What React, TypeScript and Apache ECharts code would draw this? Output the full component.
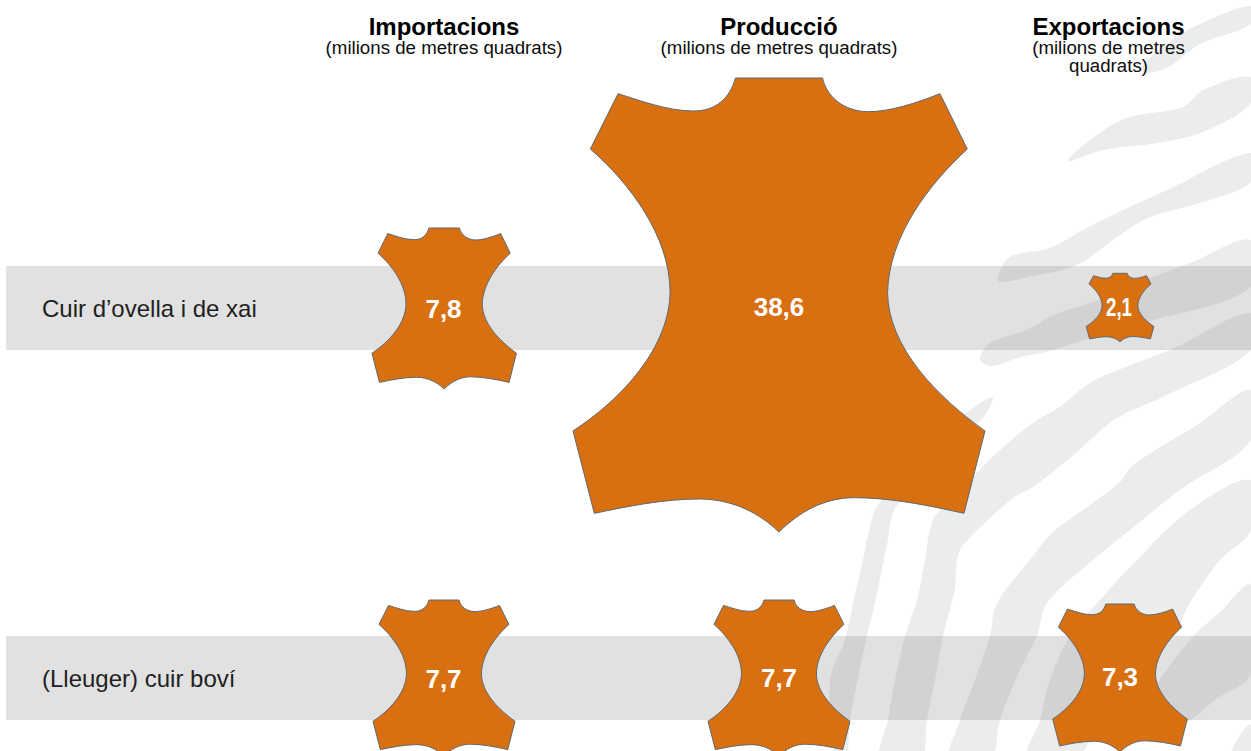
import React, { useEffect, useRef } from "react";
import * as echarts from "echarts";

// Leather trade figures, millions of square metres (one entry per row).
const rowNames = ["Cuir d’ovella i de xai", "(Lleuger) cuir boví"];
const columnNames = ["Importacions", "Producció", "Exportacions"];
const importValues = [7.8, 7.7];
const productionValues = [38.6, 7.7];
const exportValues = [2.1, 7.3];
const unitLines = [
  ["(milions de metres quadrats)"],
  ["(milions de metres quadrats)"],
  ["(milions de metres", "quadrats)"],
];

// Value to hide size: breakpoints of the pictogram scale, in pixels.
const sizeDomain = [2.1, 7.3, 7.7, 7.8, 38.6];
const widthRange = [67.7, 134.6, 142, 144.5, 412];
const heightRange = [68.4, 148, 156, 161, 454];

const FONT = '"Liberation Sans", Arial, sans-serif';
const ORANGE = "#d87011";

// Outline of a stretched hide.
const HIDE_PATH =
  "M527 55L788 55C800 110 850 155 925 156C990 156 1070 130 1140 102L1222 268" +
  "C1110 370 985 530 983 700C985 860 1130 1010 1275 1113L1212 1360" +
  "C1100 1335 990 1313 880 1313C790 1315 720 1355 657 1416C600 1360 520 1318 420 1317" +
  "C310 1317 200 1340 104 1360L40 1113C190 1015 330 860 331 695C330 530 210 370 92 268" +
  "L175 102C240 122 320 153 400 154C470 154 510 115 527 55Z";

// Small optical offsets for the pictograms: [column][row] -> [dx, dy].
const hideOffsets = [
  [[-0.3, 0.5], [-0.5, 0]],
  [[-3.5, -3], [-3.5, 0]],
  [[-0.5, -0.5], [-0.5, 0]],
];
const labelOffsets = [
  [[-1, 1], [-1, 0.5]],
  [[-3.5, -1], [-3.5, -0.5]],
  [[-1.5, -1], [-0.5, -1.5]],
];

// Pale zebra-hide stripes behind the chart.
const stripes: number[][][] = [
  [[1251, 6], [1200, 24], [1175, 38], [1142, 66], [1146, 73], [1170, 66], [1200, 44], [1251, 24]],
  [[1068, 161], [1090, 140], [1127, 118], [1183, 107], [1203, 90], [1251, 77], [1251, 103], [1203, 132], [1157, 143], [1103, 150]],
  [[998, 276], [1010, 257], [1050, 248], [1083, 230], [1117, 213], [1167, 190], [1251, 153], [1251, 182], [1200, 203], [1150, 217], [1117, 237], [1077, 265], [1033, 276], [1000, 282]],
  [[980, 360], [990, 343], [1027, 330], [1053, 315], [1090, 303], [1150, 278], [1190, 263], [1251, 240], [1251, 287], [1147, 322], [1090, 338], [1053, 350], [1017, 358], [993, 366]],
  [[1251, 313], [1170, 350], [1123, 368], [1090, 383], [1058, 408], [1037, 420], [1000, 450], [960, 490], [945, 505], [932, 522], [925, 560], [917, 600], [905, 636], [895, 680], [888, 720], [880, 760], [920, 760], [927, 720], [935, 680], [943, 636], [955, 588], [957, 560], [963, 545], [1013, 498], [1033, 487], [1077, 452], [1090, 440], [1117, 418], [1167, 395], [1251, 350]],
  [[1251, 390], [1197, 425], [1133, 465], [1120, 482], [1090, 505], [1053, 532], [1030, 560], [997, 603], [990, 636], [975, 680], [960, 720], [950, 760], [990, 760], [1000, 720], [1020, 670], [1037, 636], [1047, 603], [1093, 560], [1130, 530], [1180, 490], [1251, 440]],
  [[1251, 480], [1190, 510], [1137, 560], [1100, 600], [1070, 636], [1050, 680], [1040, 720], [1027, 760], [1075, 760], [1110, 700], [1170, 640], [1190, 603], [1220, 560], [1251, 530]],
  [[1150, 700], [1190, 640], [1220, 612], [1251, 585], [1251, 673], [1215, 700], [1187, 722], [1160, 730]],
  [[1230, 760], [1240, 735], [1251, 725], [1251, 760]],
  [[985, 400], [993, 398], [985, 415], [960, 440], [897, 505], [887, 545], [875, 603], [867, 636], [850, 720], [846, 760], [835, 760], [830, 680], [845, 640], [853, 603], [862, 565], [868, 535], [878, 505], [930, 440]],
];

function pieceScale(value: number, range: number[]): number {
  for (let i = 1; i < sizeDomain.length; i++) {
    if (value <= sizeDomain[i]) {
      return echarts.number.linearMap(value, [sizeDomain[i - 1], sizeDomain[i]], [range[i - 1], range[i]], true);
    }
  }
  return range[range.length - 1];
}

function buildOption() {
  const cells: number[][] = [];
  [importValues, productionValues, exportValues].forEach((values, col) => {
    values.forEach((v, row) => cells.push([col, row, v]));
  });

  return {
    animation: false,
    backgroundColor: "#ffffff",
    grid: { left: 275.5, top: 123, width: 1014, height: 740, outerBoundsMode: "none", containLabel: false },
    xAxis: {
      type: "category",
      data: columnNames,
      position: "top",
      axisLine: { show: false },
      axisTick: { show: false },
      axisLabel: { show: false },
      splitLine: { show: false },
    },
    yAxis: {
      type: "category",
      data: rowNames,
      inverse: true,
      axisLine: { show: false },
      axisTick: { show: false },
      splitLine: { show: false },
      axisLabel: {
        margin: 233.5,
        align: "left",
        color: "#0d0d0d",
        fontFamily: FONT,
        fontSize: 24,
      },
    },
    graphic: {
      elements: stripes.map((points) => ({
        type: "polygon",
        z: 0,
        silent: true,
        shape: { points, smooth: 0.35 },
        style: { fill: "#ebedec" },
      })),
    },
    series: [
      {
        // Grey row bands
        type: "custom",
        silent: true,
        z: 1,
        clip: false,
        data: rowNames.map((_, row) => [0, row]),
        encode: { x: 0, y: 1 },
        renderItem(_params: any, api: any) {
          const [, cy] = api.coord([0, api.value(1)]);
          return {
            type: "rect",
            shape: { x: 6, y: cy - 42, width: 1245, height: 84 },
            style: { fill: "rgba(105,105,105,0.2)" },
          };
        },
      },
      {
        // Column headers
        type: "custom",
        silent: true,
        z: 3,
        clip: false,
        data: columnNames.map((_, col) => [col, 0]),
        encode: { x: 0, y: 1 },
        renderItem(_params: any, api: any) {
          const col = api.value(0);
          const [px] = api.coord([col, 0]);
          const cx = col === 0 ? px - 0.5 : col === 1 ? px - 3.5 : px - 12;
          const children: any[] = [
            {
              type: "text",
              x: cx,
              y: 26,
              style: {
                text: columnNames[col],
                fill: "#000000",
                fontFamily: FONT,
                fontSize: 24,
                fontWeight: "bold",
                align: "center",
                verticalAlign: "middle",
              },
            },
          ];
          unitLines[col].forEach((line, i) => {
            children.push({
              type: "text",
              x: cx,
              y: 47 + i * 18.7,
              style: {
                text: line,
                fill: "#0d0d0d",
                fontFamily: FONT,
                fontSize: 18.7,
                align: "center",
                verticalAlign: "middle",
              },
            });
          });
          return { type: "group", children };
        },
      },
      {
        // Hide pictograms sized from the value, with the value on top
        type: "custom",
        silent: true,
        z: 4,
        clip: false,
        data: cells,
        encode: { x: 0, y: 1 },
        renderItem(_params: any, api: any) {
          const col = api.value(0);
          const row = api.value(1);
          const value = api.value(2);
          const [px, py] = api.coord([col, row]);
          const w = pieceScale(value, widthRange);
          const h = pieceScale(value, heightRange);
          const [dx, dy] = hideOffsets[col][row];
          const [lx, ly] = labelOffsets[col][row];
          const narrow = value < 3;
          return {
            type: "group",
            children: [
              {
                type: "path",
                shape: {
                  pathData: HIDE_PATH,
                  layout: "cover",
                  x: px + dx - w / 2,
                  y: py + dy - h / 2,
                  width: w,
                  height: h,
                },
                style: { fill: ORANGE, stroke: "#5f6870", lineWidth: 1 },
              },
              {
                type: "text",
                x: px + lx,
                y: py + ly,
                scaleX: narrow ? 0.72 : 1,
                style: {
                  text: value.toFixed(1).replace(".", ","),
                  fill: "#ffffff",
                  fontFamily: FONT,
                  fontSize: 26,
                  fontWeight: "bold",
                  align: "center",
                  verticalAlign: "middle",
                },
              },
            ],
          };
        },
      },
    ],
  };
}

export default function App() {
  const ref = useRef<HTMLDivElement>(null);

  useEffect(() => {
    if (!ref.current) return;
    const chart = echarts.init(ref.current, undefined, { renderer: "svg" });
    chart.setOption(buildOption() as any);
    return () => chart.dispose();
  }, []);

  return (
    <div
      ref={ref}
      style={{ position: "fixed", left: 0, top: 0, width: 1251, height: 751, overflow: "hidden" }}
    />
  );
}
